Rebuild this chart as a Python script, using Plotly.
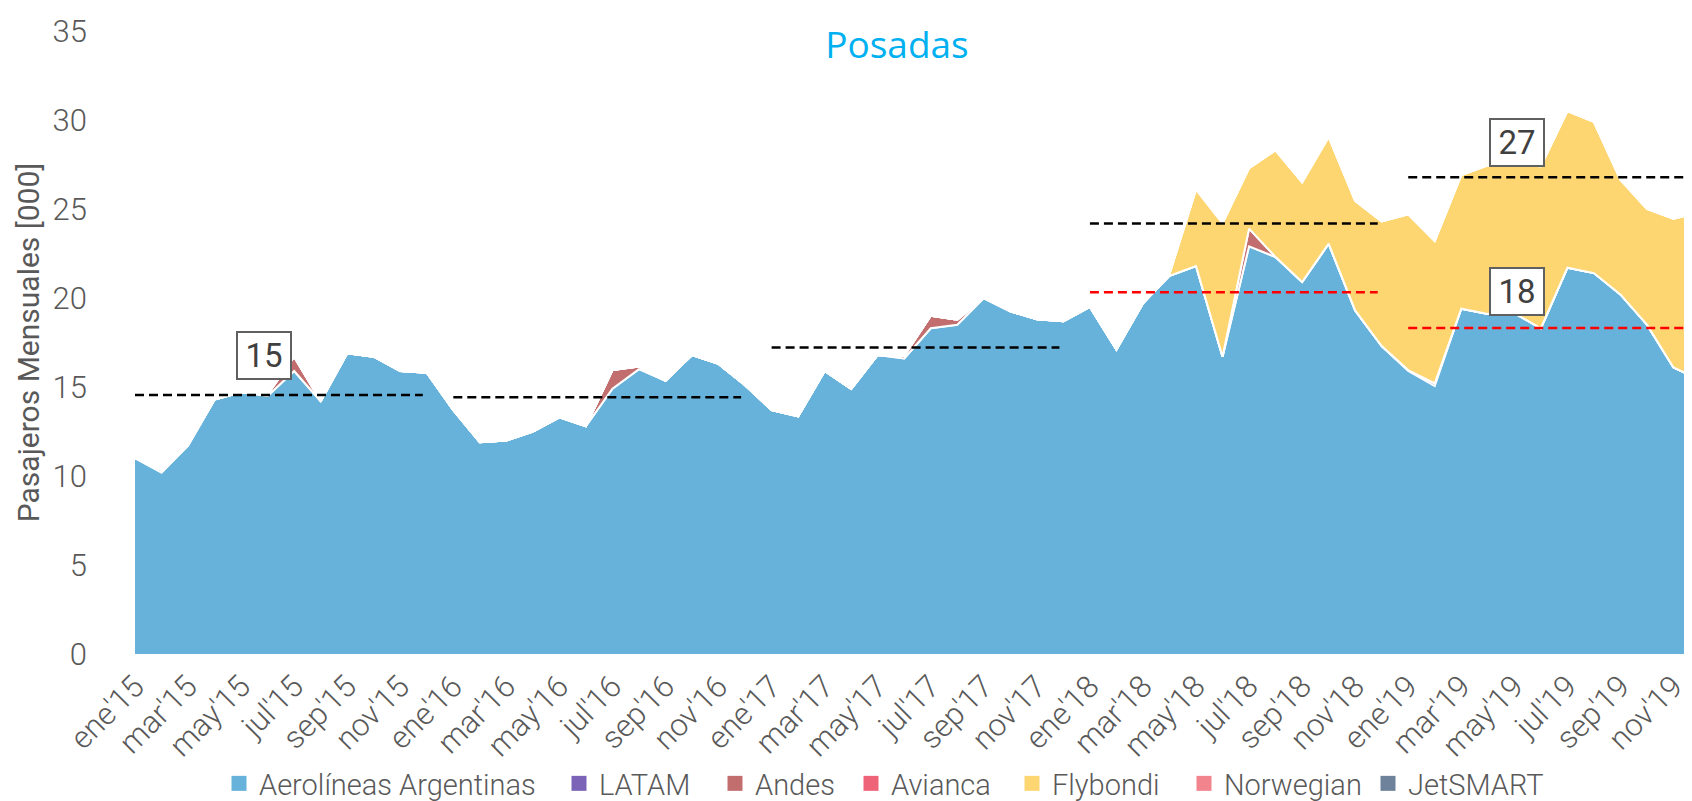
import plotly.graph_objects as go

# ---- data ----
month_names = ["ene", "feb", "mar", "abr", "may", "jun", "jul", "ago", "sep", "oct", "nov", "dic"]
years = ["15", "16", "17", "18", "19"]
months = [f"{m}'{y}" for y in years for m in month_names]

aerolineas = [11.0, 10.2, 11.7, 14.3, 14.7, 14.5, 15.9, 14.2, 16.9, 16.7, 15.9, 15.8,
              13.7, 11.9, 12.0, 12.5, 13.3, 12.8, 14.9, 16.0, 15.35, 16.8, 16.3, 15.1,
              13.7, 13.35, 15.9, 14.9, 16.8, 16.6, 18.3, 18.5, 20.0, 19.25, 18.8, 18.7,
              19.5, 17.1, 19.7, 21.25, 21.8, 16.7, 22.9, 22.3, 20.9, 23.05, 19.3, 17.3,
              15.9, 15.05, 19.4, 19.1, 19.15, 18.3, 21.7, 21.4, 20.2, 18.5, 16.1, 15.4]
latam = [0] * 48 + [0.05, 0.15] + [0] * 10
andes = [0, 0.15, 0.05, 0, 0, 0.1, 0.8, 0, 0, 0, 0, 0,
         0, 0, 0, 0, 0, 0, 1.05, 0.15, 0, 0, 0, 0,
         0, 0, 0, 0, 0, 0.15, 0.7, 0.28, 0, 0, 0, 0,
         0, 0, 0, 0, 0, 0, 1.0, 0, 0, 0, 0, 0,
         0, 0, 0, 0, 0, 0, 0, 0, 0, 0, 0, 0]
avianca = [0] * 60
flybondi = [0] * 39 + [0.1, 4.3, 7.5, 3.4, 6.0, 5.6, 6.0, 6.15, 7.0,
                       8.75, 8.0, 7.5, 8.35, 8.35, 9.1, 8.8, 8.5, 6.45, 6.5, 8.35, 9.4]
norwegian = [0] * 60
jetsmart = [0] * 60

series_names = ["Aerolíneas Argentinas", "LATAM", "Andes", "Avianca", "Flybondi", "Norwegian", "JetSMART"]
series_values = [aerolineas, latam, andes, avianca, flybondi, norwegian, jetsmart]
series_colors = ["#66B2DA", "#7B64B8", "#C26E6E", "#EF6379", "#FDD672", "#F1848D", "#6E829B"]

# yearly averages (dashed lines)
avg_year_start = [0, 12, 24, 36, 48]
avg_total = [14.55, 14.43, 17.22, 24.18, 26.78]
avg_aa = [None, None, None, 20.33, 18.32]

# boxed labels
label_x = [4.85, 52.1, 52.1]
label_y = [16.75, 28.73, 20.35]
label_text = ["15", "27", "18"]

# legend entry left edges (px)
legend_left_px = [211, 551, 707, 843, 1004, 1176, 1360]

# ---- figure ----
W, H = 1692, 801
ML, MR, MT, MB = 127, 0, 23, 148
grey = "#595959"
x_idx = list(range(len(months)))
fig = go.Figure()
for name, vals, col in zip(series_names, series_values, series_colors):
    fig.add_trace(go.Scatter(
        x=x_idx, y=vals, name=name, mode="lines", stackgroup="one",
        line=dict(color="white", width=2), fillcolor=col, showlegend=False,
        hoverinfo="skip"))

legend_layout = {}
for k, (name, col, lx) in enumerate(zip(series_names, series_colors, legend_left_px)):
    lname = "legend" if k == 0 else f"legend{k + 1}"
    fig.add_trace(go.Scatter(
        x=[None], y=[None], name=name, mode="markers", legend=lname,
        marker=dict(symbol="square", size=15, color=col), showlegend=True))
    legend_layout[lname] = dict(
        orientation="h", xref="paper", yref="paper",
        x=(lx - ML) / (W - ML - MR), xanchor="left", y=-0.208, yanchor="middle",
        font=dict(family="Roboto", size=29, color=grey, weight=300),
        bgcolor="rgba(0,0,0,0)")

last = len(months) - 1
for x0, yt, ya in zip(avg_year_start, avg_total, avg_aa):
    x1 = min(x0 + 10.85, last)
    fig.add_shape(type="line", xref="x", yref="y", x0=x0, x1=x1, y0=yt, y1=yt,
                  line=dict(color="black", width=2.5, dash="9px,5px"), layer="above")
    if ya is not None:
        fig.add_shape(type="line", xref="x", yref="y", x0=x0, x1=x1, y0=ya, y1=ya,
                      line=dict(color="#FF0000", width=2.5, dash="9px,5px"), layer="above")

for lx, ly, lt in zip(label_x, label_y, label_text):
    fig.add_annotation(x=lx, y=ly, xref="x", yref="y", text=lt, showarrow=False,
                       font=dict(family="Roboto", size=33, color="#404040"),
                       bgcolor="white", bordercolor="#606060", borderwidth=2,
                       borderpad=2, width=48, height=41)

fig.update_layout(
    width=W, height=H,
    margin=dict(l=ML, r=MR, t=MT, b=MB),
    paper_bgcolor="white", plot_bgcolor="white",
    title=dict(text="Posadas", x=889 / W, xref="container", xanchor="center",
               y=1 - 37 / H, yref="container", yanchor="middle",
               font=dict(family="Open Sans", size=37, color="#00B0F0")),
    xaxis=dict(range=[0, last], tickmode="array", tickvals=x_idx[::2], ticktext=months[::2],
               tickangle=-45, showgrid=False, zeroline=False, showline=False,
               ticklabelstandoff=7,
               tickfont=dict(family="Roboto", size=31, color=grey, weight=300)),
    yaxis=dict(range=[0, 35], tickvals=list(range(0, 36, 5)), showgrid=False, zeroline=False,
               showline=False, ticklabelstandoff=47,
               tickfont=dict(family="Roboto", size=31, color=grey, weight=300),
               title=dict(text="Pasajeros Mensuales [000]", standoff=4,
                          font=dict(family="Roboto", size=30, color=grey))),
    showlegend=True,
    **legend_layout,
)

fig.write_html("out.html")
